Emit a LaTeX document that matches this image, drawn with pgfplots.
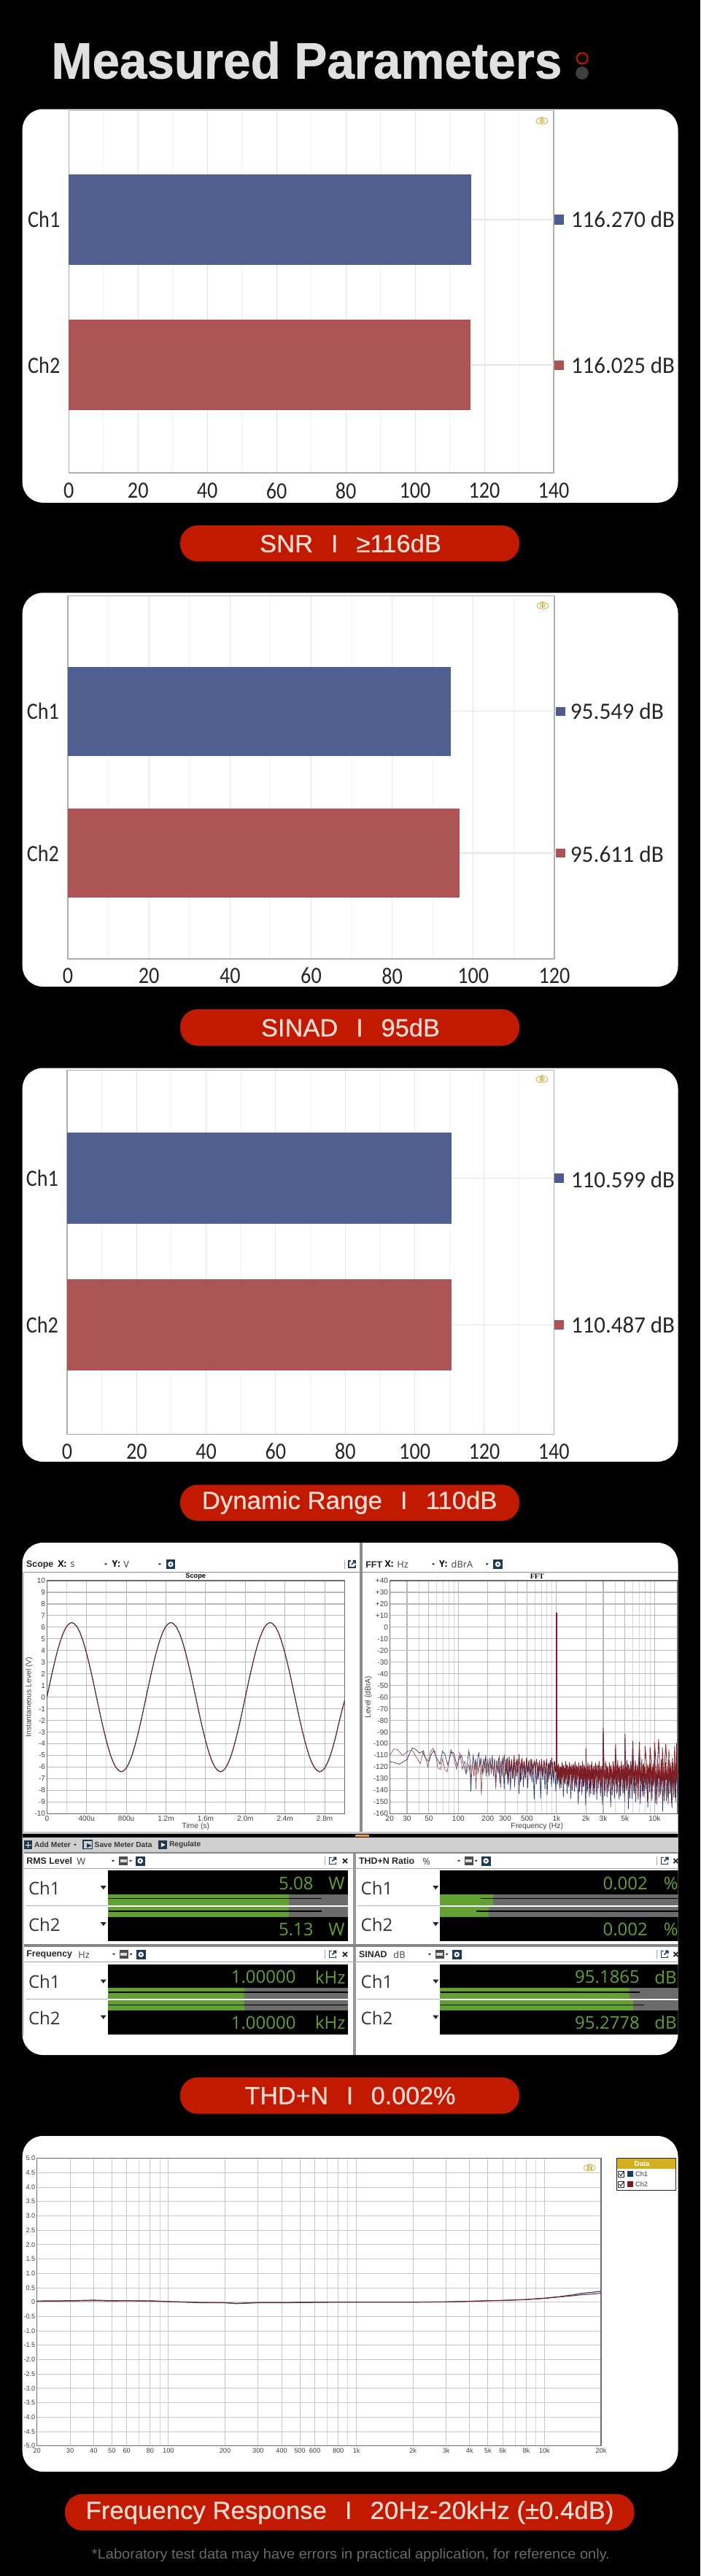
\documentclass[border=0pt]{standalone}
\usepackage{graphicx}
\usepackage{fontspec}
\setmainfont{Liberation Sans}
\newfontfamily\din[FakeStretch=0.88]{Carlito}
\newfontfamily\seg{Open Sans}
\newfontfamily\serf{Liberation Serif}
\newfontfamily\titlef[FakeBold=0.8]{Liberation Sans}
\newfontfamily\pillf[FakeBold=0.5]{Liberation Sans}
\usepackage{pgfplots}
\usepackage{pgfplotstable}
\pgfplotsset{compat=1.18}
\definecolor{bblue}{HTML}{4C5C8E}
\definecolor{bred}{HTML}{AC5252}
\definecolor{pill}{HTML}{C21A00}
\definecolor{pilltx}{HTML}{FBDDD5}
\definecolor{lblue}{HTML}{2B3C70}
\definecolor{lred}{HTML}{7F1C22}
\definecolor{navy}{HTML}{1F3A55}
\definecolor{mgreen}{HTML}{63A033}
\definecolor{mtrack}{HTML}{6B6B6B}
\definecolor{gold}{HTML}{D9B24A}
\definecolor{chrome}{HTML}{C8C8C8}
\definecolor{grip}{HTML}{E09A40}
\definecolor{dgold}{HTML}{D4AF22}

\pgfplotstableread{
t ch1 ch2
0 0 0
0.05 1.98 1.97
0.10 3.76 3.75
0.15 5.18 5.17
0.20 6.09 6.08
0.25 6.40 6.39
0.30 6.09 6.08
0.35 5.18 5.17
0.40 3.76 3.75
0.45 1.98 1.97
0.50 0 0
0.55 -1.98 -1.97
0.60 -3.76 -3.75
0.65 -5.18 -5.17
0.70 -6.09 -6.08
0.75 -6.40 -6.39
0.80 -6.09 -6.08
0.85 -5.18 -5.17
0.90 -3.76 -3.75
0.95 -1.98 -1.97
1.00 0 0
1.05 1.98 1.97
1.10 3.76 3.75
1.15 5.18 5.17
1.20 6.09 6.08
1.25 6.40 6.39
1.30 6.09 6.08
1.35 5.18 5.17
1.40 3.76 3.75
1.45 1.98 1.97
1.50 0 0
1.55 -1.98 -1.97
1.60 -3.76 -3.75
1.65 -5.18 -5.17
1.70 -6.09 -6.08
1.75 -6.40 -6.39
1.80 -6.09 -6.08
1.85 -5.18 -5.17
1.90 -3.76 -3.75
1.95 -1.98 -1.97
2.00 0 0
2.05 1.98 1.97
2.10 3.76 3.75
2.15 5.18 5.17
2.20 6.09 6.08
2.25 6.40 6.39
2.30 6.09 6.08
2.35 5.18 5.17
2.40 3.76 3.75
2.45 1.98 1.97
2.50 0 0
2.55 -1.98 -1.97
2.60 -3.76 -3.75
2.65 -5.18 -5.17
2.70 -6.09 -6.08
2.75 -6.40 -6.39
2.80 -6.09 -6.08
2.85 -5.18 -5.17
2.90 -3.76 -3.75
2.95 -1.98 -1.97
3.00 -0.30 -0.30
}\scopedata

\pgfplotsset{
  barax/.style={scale only axis, xmin=0, clip=false, anchor=south west,
    axis line style={draw=black!32, line width=0.6pt},
    grid=both, major grid style={draw=black!11, line width=0.5pt},
    minor grid style={draw=black!6, line width=0.5pt},
    minor x tick num=1, ymajorgrids=false, yminorgrids=false,
    major tick length=0pt, minor tick length=0pt,
    ytick={0,1}, yticklabels={Ch2,Ch1},
    yticklabel style={font=\din\fontsize{16pt}{16pt}\selectfont, text=black!85, inner sep=0pt, xshift=-5.8pt},
    xticklabel style={font=\din\fontsize{16pt}{16pt}\selectfont, text=black!85, anchor=center, inner sep=0pt},
  },
  appax/.style={scale only axis, anchor=south west, every axis title shift=0pt,
    axis line style={draw=black!58, line width=0.6pt},
    grid=both, major grid style={draw=black!28, line width=0.55pt},
    minor grid style={draw=black!16, line width=0.45pt},
    major tick length=0pt, minor tick length=0pt,
    tick label style={font=\fontsize{5pt}{5pt}\selectfont, text=black!75, inner sep=1pt},
    label style={font=\fontsize{5.2pt}{5.2pt}\selectfont, text=black!75},
  },
}
\newcommand\pilltext[2]{\resizebox{#1pt}{\height}{\pillf\fontsize{17pt}{18pt}\selectfont #2}}
\newcommand\sepI{\hspace{0.72em}I\hspace{0.72em}}
\newcommand\gear[2]{%
  \fill[navy] (#1,#2) rectangle ++(12.5,13);
  \draw[white, line width=1.1pt] (#1+6.25,#2+6.5) circle (2.6);}
\newcommand\popout[2]{%
  \draw[navy, line width=0.7pt] (#1+3,#2) -- (#1,#2) -- (#1,#2+9) -- (#1+9,#2+9) -- (#1+9,#2+6);
  \draw[navy, line width=0.8pt] (#1+4,#2+5) -- (#1+9,#2) (#1+5.5,#2) -- (#1+9,#2) -- (#1+9,#2+3.5);}
\newcommand\tri[3]{\fill[black!85] (#1-#3,#2-0.6*#3) -- (#1+#3,#2-0.6*#3) -- (#1,#2+0.7*#3) -- cycle;}
\newcommand\meticon[2]{%
  \fill[black!70] (#1,#2) rectangle ++(12,12);
  \fill[white!70!gray] (#1+1.5,#2+4) rectangle ++(9,4);
  \tri{#1+16}{#2+6}{2}}
\newcommand\logo[2]{%
  \draw[gold, line width=0.45pt] (#1,#2) ellipse (8 and 4.4);
  \draw[gold, line width=0.8pt] (#1-2.5,#2-4) -- (#1-2.5,#2+3) (#1,#2-6) -- (#1,#2+3) (#1+2.5,#2-3) -- (#1+2.5,#2+3);}
\newcommand\hdr[2]{\node[anchor=west, inner sep=0, font=\fontsize{6.2pt}{8pt}\selectfont\bfseries, text=black!85] at (#1) {#2};}
\newcommand\sm[2]{\node[anchor=west, inner sep=0, font=\seg\fontsize{6.4pt}{8pt}\selectfont, text=black!75] at (#1) {#2};}
\newcommand\chl[2]{\node[anchor=west, inner sep=0, font=\seg\fontsize{12pt}{12pt}\selectfont, text=black!80] at (#1) {#2};}
\newcommand\val[2]{\node[anchor=east, inner sep=0, font=\seg\fontsize{12pt}{12pt}\selectfont, text=mgreen] at (#1) {#2};}
\newcommand\mbar[5]{\addplot[fill=#5, draw=none, forget plot] coordinates {(#1,#2)(#3,#2)(#3,#4)(#1,#4)} --cycle;}
\newcommand\mline[3]{\addplot[black, line width=0.75pt, forget plot] coordinates {(#1,#3)(#2,#3)};}

\begin{document}
\begin{tikzpicture}
\path[use as bounding box] (0pt,0pt) rectangle (480pt,-1765pt);
\clip (0pt,0pt) rectangle (480pt,-1765pt);
\fill[black] (0pt,0pt) rectangle (480pt,-1765pt);

\begin{scope}[x=0.5pt,y=-0.5pt]
% title
\node[anchor=base west, inner sep=0, text=black!12, font=\titlef\fontsize{35pt}{37pt}\selectfont\bfseries] at (70,107.5) {\resizebox{350pt}{\height}{Measured Parameters}};
\draw[pill!90!red, line width=1pt] (798,80) circle (7.5);
\fill[black!75] (798,100) circle (8.8);
% panels
\foreach \a/\b in {149.5/688.8, 812.3/1352, 1463.5/2003, 2114/2816, 2927/3387}
  \fill[white, rounded corners=14pt] (30.7,\a) rectangle (929.5,\b);
% pills
\foreach \a/\b in {720/769.4, 1383/1433, 2034.5/2084, 2846.7/2896.7}
  \fill[pill, rounded corners=12pt] (247,\a) rectangle (712,\b);
\fill[pill, rounded corners=12pt] (89,3417.7) rectangle (869.6,3467.7);
\node[inner sep=0, text=pilltx] at (480.5,744.5) {\pilltext{124.5}{SNR\sepI≥116dB}};
\node[inner sep=0, text=pilltx] at (480.5,1408) {\pilltext{122.5}{SINAD\sepI 95dB}};
\node[inner sep=0, text=pilltx] at (479.2,2059) {\pilltext{202.4}{Dynamic Range\sepI 110dB}};
\node[inner sep=0, text=pilltx] at (480,2871.7) {\pilltext{144.5}{THD+N\sepI 0.002\%}};
\node[inner sep=0, text=pilltx] at (479.6,3443) {\pilltext{362}{Frequency Response\sepI 20Hz-20kHz (±0.4dB)}};
\node[inner sep=0, text=black!58] at (481,3501.7) {\resizebox{355pt}{\height}{\fontsize{9.6pt}{10pt}\selectfont *Laboratory test data may have errors in practical application, for reference only.}};

% panel 4 chrome
\begin{scope}
\clip[rounded corners=14pt] (30.7,2114) rectangle (929.5,2816);
\fill[chrome] (30.7,2154) rectangle (33,2790);
\fill[black!45] (493.3,2114) rectangle (497.3,2512);
\fill[black!40] (484,2538) rectangle (488.3,2816);
\fill[black!45] (33,2153.5) rectangle (929.5,2154.5);
\fill[chrome] (33,2510) rectangle (929.5,2512.5);
\fill[black] (30.7,2512.5) rectangle (929.5,2518.3);
\fill[grip] (486.7,2514) rectangle (505.7,2517.3);
\fill[black!19] (30.7,2518.3) rectangle (929.5,2538.3);
\fill[black!48] (33,2538.3) rectangle (929.5,2540);
\fill[black!48] (33,2664) rectangle (929.5,2667.7);
\foreach \y in {2560,2688.3} \fill[black!35] (33,\y) rectangle (929.5,\y+0.9);
\foreach \y in {2610.7,2739} {\fill[black!30] (35,\y) rectangle (148,\y+0.9); \fill[black!30] (490,\y) rectangle (603,\y+0.9);}
% black meter boxes
\foreach \xa/\xb in {148/477, 603.3/929.5}{
  \fill[black] (\xa,2563.3) rectangle (\xb,2595.8);
  \fill[black] (\xa,2626.7) rectangle (\xb,2660.3);
  \fill[black] (\xa,2691.7) rectangle (\xb,2724.2);
  \fill[black] (\xa,2755.3) rectangle (\xb,2787.7);
}
\end{scope}
% header row
\hdr{35.7,2144}{Scope}
\node[anchor=west, inner sep=0, font=\seg\fontsize{6.2pt}{7pt}\selectfont\bfseries] at (79,2143.5) {X:};
\sm{96,2144.5}{s} \tri{145}{2143.5}{2}
\node[anchor=west, inner sep=0, font=\seg\fontsize{6.2pt}{7pt}\selectfont\bfseries] at (153.3,2143.5) {Y:};
\sm{169,2144}{V} \tri{219}{2143.5}{2}
\gear{227.7}{2137} \draw[black!35,line width=0.5pt] (472.7,2138)--(472.7,2150); \popout{478}{2139}
\hdr{501,2144}{FFT}
\node[anchor=west, inner sep=0, font=\seg\fontsize{6.2pt}{7pt}\selectfont\bfseries] at (527.3,2143.5) {X:};
\sm{544,2144}{Hz} \tri{594}{2143.5}{2}
\node[anchor=west, inner sep=0, font=\seg\fontsize{6.2pt}{7pt}\selectfont\bfseries] at (601.7,2143.5) {Y:};
\sm{618.3,2144}{dBrA} \tri{667.7}{2143.5}{2}
\gear{676.3}{2137}
% toolbar
\fill[navy] (32.7,2522) rectangle ++(11.6,11.5);
\draw[white, line width=0.5pt] (38.5,2524)--(38.5,2532) (34.5,2528)--(42.5,2528);
\node[anchor=west, inner sep=0, font=\fontsize{5.1pt}{6pt}\selectfont, text=black!78] at (46.7,2527.7) {\textbf{Add Meter}};
\tri{103}{2528}{1.8}
\draw[navy, line width=0.6pt] (114,2522) rectangle ++(12.5,11.5);
\fill[navy] (119,2526) -- (126,2529) -- (119,2532) -- cycle;
\node[anchor=west, inner sep=0, font=\fontsize{5.1pt}{6pt}\selectfont, text=black!78] at (129.3,2527.7) {\textbf{Save Meter Data}};
\fill[navy] (216.7,2522) rectangle ++(12.3,11.5);
\fill[white] (221,2525) -- (226.5,2528) -- (221,2531) -- cycle;
\node[anchor=west, inner sep=0, font=\fontsize{5.1pt}{6pt}\selectfont, text=black!78] at (231.7,2527.7) {\textbf{Regulate}};
% meter headers
\hdr{36,2550}{RMS Level} \sm{105,2550.5}{W} \tri{155}{2550}{2} \meticon{163}{2544} \gear{186}{2543.5}
\draw[black!35,line width=0.5pt] (445,2544)--(445,2556); \popout{451.5}{2545.5}
\hdr{36,2678.3}{Frequency} \sm{107,2678.5}{Hz} \tri{156}{2678}{2} \meticon{163.5}{2672} \gear{187}{2671.8}
\draw[black!35,line width=0.5pt] (445,2672)--(445,2684); \popout{451.5}{2673.5}
\hdr{491.7,2550}{THD+N Ratio} \sm{579,2550.5}{\%} \tri{629}{2550}{2} \meticon{636.7}{2544} \gear{660}{2543.5}
\draw[black!35,line width=0.5pt] (900.7,2544)--(900.7,2556); \popout{906.7}{2545.5}
\hdr{491.7,2678.3}{SINAD} \sm{539,2678.5}{dB} \tri{589}{2678}{2} \meticon{596.7}{2672} \gear{620}{2671.8}
\draw[black!35,line width=0.5pt] (900.7,2672)--(900.7,2684); \popout{906.7}{2673.5}
\foreach \p in {473,926.5}
 \foreach \q in {2550,2678}
  \draw[black!85, line width=0.9pt] (\p-3,\q-3)--(\p+3,\q+3) (\p-3,\q+3)--(\p+3,\q-3);
% channel labels, triangles
\foreach \x/\tx in {38.7/141.7, 494.3/597.3}{
 \chl{\x,2587}{Ch1} \chl{\x,2637}{Ch2} \chl{\x,2715.5}{Ch1} \chl{\x,2765}{Ch2}
 \tri{\tx}{2586.5}{4} \tri{\tx}{2636.5}{4} \tri{\tx}{2715}{4} \tri{\tx}{2764}{4}
}
% values
\val{430,2581}{5.08} \val{473,2581}{W} \val{430,2644}{5.13} \val{473,2644}{W}
\val{406,2709}{1.00000} \val{474,2709}{kHz} \val{406,2771.7}{1.00000} \val{474,2771.7}{kHz}
\val{888.3,2581}{0.002} \val{930,2581}{\%} \val{888.3,2644}{0.002} \val{930,2644}{\%}
\val{877.3,2709}{95.1865} \val{928,2709}{dB} \val{877.3,2771.7}{95.2778} \val{928,2771.7}{dB}
\end{scope}

% ---------- Meter levels
\begin{axis}[scale only axis, hide axis, anchor=south west, at={(0pt,-1400pt)},
  width=480pt, height=130pt, xmin=0, xmax=960, ymin=2540, ymax=2800, y dir=reverse, clip=false]
\mbar{148}{2596}{476.7}{2610.5}{mtrack} \mbar{148}{2613.3}{476.7}{2626.7}{mtrack}
\mbar{148}{2596}{395.7}{2610.5}{mgreen} \mbar{148}{2613.3}{395.7}{2626.7}{mgreen}
\mline{149}{440.7}{2601.7} \mline{149}{440.7}{2619}
\mbar{148}{2724.4}{476.7}{2738.5}{mtrack} \mbar{148}{2741.3}{476.7}{2755.2}{mtrack}
\mbar{148}{2724.4}{335}{2738.5}{mgreen} \mbar{148}{2741.3}{335}{2755.2}{mgreen}
\mline{149}{476.7}{2730} \mline{149}{476.7}{2747.7}
\mbar{603.3}{2596}{929.5}{2610.5}{mtrack} \mbar{603.3}{2613.3}{929.5}{2626.7}{mtrack}
\mbar{603.3}{2596}{676}{2610.5}{mgreen} \mbar{603.3}{2613.3}{670}{2626.7}{mgreen}
\mline{659}{929.5}{2601.7} \mline{653}{929.5}{2619}
\mbar{603.3}{2724.4}{929.5}{2738.5}{mtrack} \mbar{603.3}{2741.3}{929.5}{2755.2}{mtrack}
\mbar{603.3}{2724.4}{862.7}{2738.5}{mgreen} \mbar{603.3}{2741.3}{868.3}{2755.2}{mgreen}
\mline{604}{877.3}{2730} \mline{604}{882.7}{2747.7}
\end{axis}

% ---------- SNR
\begin{axis}[barax, at={(47.15pt,-324pt)}, width=332.35pt, height=248.25pt,
  xmax=140, ymin=-0.743, ymax=1.7495, xtick={0,20,...,140}, xticklabels={0,20,40,60,80,100,120,140},
  xticklabel style={yshift=-12.2pt}]
\addplot[black!10, line width=0.7pt, forget plot] coordinates {(116.27,1)(140,1)};
\addplot[black!10, line width=0.7pt, forget plot] coordinates {(116.025,0)(140,0)};
\addplot[xbar, bar width=62pt, bar shift=0pt, fill=bblue, draw=none, fill opacity=0.98] coordinates {(116.27,1)};
\addplot[xbar, bar width=62pt, bar shift=0pt, fill=bred, draw=none, fill opacity=0.98] coordinates {(116.025,0)};
\addplot[only marks, mark=square*, mark size=3.05pt, color=bblue] coordinates {(141.6,1)};
\addplot[only marks, mark=square*, mark size=3.05pt, color=bred] coordinates {(141.6,0)};
\end{axis}

% ---------- SINAD
\begin{axis}[barax, at={(46.5pt,-657pt)}, width=333.5pt, height=248.6pt,
  xmax=120, ymin=-0.7459, ymax=1.8117, xtick={0,20,...,120}, xticklabels={0,20,40,60,80,100,120},
  xticklabel style={yshift=-11.6pt}]
\addplot[black!10, line width=0.7pt, forget plot] coordinates {(94.5,1)(120,1)};
\addplot[black!10, line width=0.7pt, forget plot] coordinates {(96.7,0)(120,0)};
\addplot[xbar, bar width=61pt, bar shift=0pt, fill=bblue, draw=none, fill opacity=0.98] coordinates {(94.5,1)};
\addplot[xbar, bar width=61pt, bar shift=0pt, fill=bred, draw=none, fill opacity=0.98] coordinates {(96.7,0)};
\addplot[only marks, mark=square*, mark size=2.8pt, color=bblue] coordinates {(121.5,1)};
\addplot[only marks, mark=square*, mark size=2.8pt, color=bred] coordinates {(121.5,0)};
\end{axis}

% ---------- Dynamic Range
\begin{axis}[barax, at={(46pt,-982.85pt)}, width=333.65pt, height=249.55pt,
  xmax=140, ymin=-0.7476, ymax=1.7367, xtick={0,20,...,140}, xticklabels={0,20,40,60,80,100,120,140},
  xticklabel style={yshift=-11.7pt}]
\addplot[black!10, line width=0.7pt, forget plot] coordinates {(110.6,1)(140,1)};
\addplot[black!10, line width=0.7pt, forget plot] coordinates {(110.49,0)(140,0)};
\addplot[xbar, bar width=62.5pt, bar shift=0pt, fill=bblue, draw=none, fill opacity=0.98] coordinates {(110.6,1)};
\addplot[xbar, bar width=62.5pt, bar shift=0pt, fill=bred, draw=none, fill opacity=0.98] coordinates {(110.49,0)};
\addplot[only marks, mark=square*, mark size=3.05pt, color=bblue] coordinates {(141.5,1)};
\addplot[only marks, mark=square*, mark size=3.05pt, color=bred] coordinates {(141.5,0)};
\end{axis}

% ---------- Scope
\begin{axis}[appax, at={(32.15pt,-1242.65pt)}, width=204pt, height=159.65pt,
  xmin=0, xmax=3, ymin=-10, ymax=10,
  xtick={0,0.4,...,2.8}, xticklabels={0,400u,800u,1.2m,1.6m,2.0m,2.4m,2.8m},
  minor xtick={0.2,0.6,1.0,1.4,1.8,2.2,2.6},
  ytick={-10,-9,...,10},
  yticklabels={-10,-9,-8,-7,-6,-5,-4,-3,-2,-1,0,1,2,3,4,5,6,7,8,9,10},
  xlabel={Time (s)}, ylabel={Instantaneous Level (V)},
  xlabel style={at={(axis description cs:0.5,0)}, anchor=center, yshift=-8.7pt},
  ylabel style={at={(axis description cs:0,0.5)}, anchor=center, rotate=0, yshift=12.2pt},
  title={Scope}, title style={font=\fontsize{4.6pt}{5pt}\selectfont\bfseries, at={(axis description cs:0.5,1)}, anchor=center, yshift=3pt, inner sep=0pt},
  xticklabel style={yshift=-0.5pt}]
\addplot[lblue, line width=0.55pt, smooth] table[x=t, y=ch1] {\scopedata};
\addplot[lred, line width=0.4pt, smooth] table[x=t, y=ch2] {\scopedata};
\end{axis}

% ---------- FFT
\begin{axis}[appax, xmode=log, log basis x=10, at={(267.15pt,-1242.65pt)}, width=197.35pt, height=159.65pt,
  xmin=20, xmax=17190, ymin=-160, ymax=40,
  xtick={20,30,50,100,200,300,500,1000,2000,3000,5000,10000},
  xticklabels={20,30,50,100,200,300,500,1k,2k,3k,5k,10k},
  minor xtick={40,60,70,80,90,400,600,700,800,900,4000,6000,7000,8000,9000},
  ytick={-160,-150,...,40},
  yticklabels={-160,-150,-140,-130,-120,-110,-100,-90,-80,-70,-60,-50,-40,-30,-20,-10,0,+10,+20,+30,+40},
  xlabel={Frequency (Hz)}, ylabel={Level (dBrA)},
  xlabel style={at={(axis description cs:0.5116,0)}, anchor=center, yshift=-8.7pt},
  ylabel style={at={(axis description cs:0,0.5)}, anchor=center, yshift=14.6pt},
  title={FFT}, title style={font=\serf\fontsize{5pt}{5pt}\selectfont\bfseries, at={(axis description cs:0.5116,1)}, anchor=center, yshift=3pt, inner sep=0pt},
  xticklabel style={yshift=-0.5pt}]
\addplot[lblue, line width=0.36pt] coordinates {
(20,-115.5)(22,-116)(25,-117.5)(28,-115)(30,-113.5)(32,-108)(34,-103.5)(37,-105)(40,-108)(43,-106.5)(46,-112)(50,-115.5)(53,-109)(56,-106)(60,-112)(65,-117.5)(69,-106.5)(73,-109)(78,-118)(85,-107)(90,-108)(97,-119)(103,-112)(108,-110)(112,-117)(116,-121)(120,-126)(124,-115)(128,-106)(131,-112)(134,-141)
(138,-118)(142,-110)(146,-122)(150,-113)(154,-126)(158,-111)(162,-108)(166,-120)(170,-112)(175,-127)(180,-114)(185,-120)(190,-110)(195,-125)(200,-113)(205,-128)(210,-112)(216,-122)(222,-110)(228,-128)(234,-113)(240,-135)(246,-114)(252,-124)(258,-112)(265,-134)(272,-115)(279,-128)(286,-111)(293,-139)(300,-114)(308,-126)(316,-112)(324,-133)(332,-116)(340,-140)(348,-113)(357,-130)(366,-114)(375,-137)(385,-116)(395,-128)(405,-113)(415,-143)(426,-116)(437,-131)(448,-112)(460,-137)(472,-115)(484,-129)(496,-114)(509,-138)(522,-116)(535,-127)(549,-113)(563,-133)(578,-117)(593,-148)(608,-115)(624,-135)(640,-116)(656,-129)(673,-114)(690,-147)(708,-117)(726,-131)(745,-115)(764,-139)(784,-116)(804,-144)(825,-117)(846,-130)(868,-114)(890,-137)(913,-116)(937,-134)(961,-115)(985,-141)
(1010,-122)(1032,-135)(1055,-118)(1078,-139)(1102,-120)(1126,-131)(1151,-117)(1176,-146)(1202,-121)(1229,-134)(1256,-118)(1284,-143)(1312,-122)(1341,-136)(1370,-119)(1400,-147)(1431,-123)(1463,-133)(1495,-118)(1528,-141)(1561,-122)(1596,-138)(1631,-120)(1667,-152)(1704,-124)(1741,-135)(1779,-119)(1818,-144)(1858,-121)(1899,-137)(1941,-120)(1984,-153)(2000,-108)(2028,-122)(2072,-139)(2118,-118)(2164,-146)(2212,-123)(2261,-136)(2311,-119)(2362,-144)(2414,-122)(2467,-138)(2521,-118)(2576,-148)(2633,-124)(2691,-135)(2750,-119)(2811,-145)(2873,-122)(2936,-152)(3000,-90)(3069,-123)(3136,-140)(3205,-118)(3276,-146)(3348,-124)(3421,-137)(3497,-119)(3574,-154)(3652,-122)(3733,-140)(3815,-118)(3899,-147)(3985,-125)(4000,-104)(4072,-122)(4162,-141)(4254,-119)(4347,-148)(4443,-123)(4541,-137)(4640,-118)(4743,-143)(4847,-124)(4954,-150)(5000,-95)(5063,-123)(5174,-140)(5288,-117)(5404,-156)(5523,-122)(5644,-139)(5769,-118)(5895,-147)(6000,-100)(6025,-124)(6157,-142)(6293,-119)(6431,-150)(6573,-123)(6717,-138)(6865,-118)(7000,-102)(7016,-125)(7171,-152)(7328,-121)(7490,-141)(7654,-118)(7823,-146)(7995,-124)(8171,-139)(8350,-117)(8534,-155)(8722,-122)(8914,-142)(9110,-118)(9311,-149)(9515,-124)(9725,-137)(9939,-119)(10000,-104)(10157,-151)(10381,-122)(10609,-143)(10842,-118)(11081,-146)(11325,-124)(11574,-141)(11828,-118)(12089,-158)(12355,-122)(12626,-144)(12904,-119)(13188,-149)(13478,-124)(13775,-152)(14078,-118)(14388,-143)(14704,-123)(15028,-155)(15358,-119)(15696,-146)(16041,-124)(16394,-150)(16755,-118)(17124,-144)(17190,-130)};
\addplot[lred!80!white, line width=0.33pt] coordinates {
(20,-110)(22,-104.5)(24,-105)(27,-110)(31,-106)(34,-106)(37,-111)(41,-117)(44,-106)(46,-111)(49,-120)(52,-107)(55,-104)(58,-107)(62,-121)(66,-122)(69,-113)(73,-122)(77,-124)(84,-105)(90,-112)(96,-122)(104,-108)(110,-122)(116,-115)(122,-124)(128,-118)(134,-130)(139,-117)(144,-128)(148,-115)(151,-139)(155,-116)(160,-125)(165,-113)(169,-131)(172,-144)(176,-118)(181,-125)(186,-113)(192,-128)(198,-114)(204,-122)(210,-112)(216,-126)(222,-118)(228,-124)(234,-113)(241,-139)(248,-115)(255,-126)(262,-110)(270,-138)(278,-113)(286,-122)(294,-109)(302,-127)};
\addplot[lred, line width=0.42pt] coordinates {
(302,-127)(311,-113)(320,-135)(329,-111)(339,-124)(349,-114)(359,-130)(370,-110)(381,-128)(392,-113)(404,-125)(416,-109)(428,-133)(441,-113)(454,-124)(467,-115)(481,-130)(495,-112)(510,-123)(525,-114)(541,-129)(557,-113)(574,-126)(591,-115)(609,-122)(627,-113)(646,-131)(665,-116)(685,-125)(706,-113)(727,-128)(749,-114)(771,-126)(794,-113)(818,-133)(843,-116)(868,-125)(894,-112)(921,-129)(949,-115)(977,-124)(990,-116)
(1010,-120)(1021,-133)(1043,-117)(1066,-128)(1090,-119)(1114,-138)(1139,-116)(1164,-127)(1190,-118)(1216,-135)(1243,-115)(1270,-129)(1298,-119)(1327,-137)(1356,-116)(1386,-126)(1417,-118)(1448,-140)(1480,-117)(1513,-130)(1546,-115)(1580,-136)(1615,-119)(1651,-127)(1687,-116)(1724,-141)(1762,-118)(1801,-131)(1841,-115)(1881,-137)(1923,-119)(1965,-129)(1995,-120)(2000,-104)(2005,-121)(2050,-142)(2095,-116)(2141,-131)(2188,-118)(2236,-143)(2286,-115)(2336,-133)(2388,-119)(2440,-144)(2494,-116)(2549,-128)(2605,-118)(2662,-139)(2721,-115)(2781,-134)(2842,-119)(2905,-140)(2969,-117)(3000,-86.5)(3030,-118)(3100,-145)(3170,-115)(3240,-132)(3312,-119)(3385,-141)(3460,-116)(3536,-130)(3614,-118)(3693,-144)(3774,-115)(3857,-136)(3942,-119)(4000,-100.5)(4030,-117)(4118,-143)(4208,-114)(4300,-133)(4395,-119)(4491,-145)(4590,-115)(4691,-131)(4795,-118)(4900,-142)(5000,-91.5)(5030,-116)(5118,-139)(5230,-114)(5345,-134)(5463,-118)(5583,-147)(5706,-115)(5831,-132)(6000,-97.5)(6095,-117)(6229,-143)(6366,-114)(6506,-136)(6649,-118)(6795,-148)(7000,-98.5)(7100,-116)(7247,-135)(7410,-113)(7572,-145)(7738,-117)(7908,-133)(8000,-102)(8260,-115)(8442,-150)(8628,-118)(8817,-134)(9000,-103)(9210,-114)(9413,-147)(9620,-117)(9831,-133)(10000,-99)(10270,-113)(10495,-152)(10725,-117)(11000,-96)(11200,-114)(11450,-144)(11700,-113)(11958,-135)(12000,-103)(12222,-116)(12490,-149)(12765,-112)(13000,-100)(13332,-117)(13626,-146)(13926,-113)(14000,-105)(14233,-134)(14545,-116)(14865,-151)(15192,-112)(15527,-138)(15868,-116)(16000,-102)(16218,-146)(16574,-112)(16800,-99.5)(16939,-133)(17190,-121)};
\addplot[lred, line width=0.5pt] coordinates {
(1005,-128)(1028,-119)(1050,-131)(1075,-122)(1100,-134)(1122,-120)(1148,-129)(1172,-119)(1198,-133)(1225,-121)(1252,-130)(1280,-118)(1309,-135)(1338,-120)(1367,-128)(1398,-122)(1430,-132)(1462,-119)(1494,-127)(1527,-121)(1560,-134)(1594,-118)(1630,-130)(1666,-123)(1702,-131)(1740,-119)(1778,-128)(1816,-122)(1856,-133)(1897,-118)(1939,-130)(1982,-121)(2026,-135)(2070,-119)(2116,-127)(2162,-122)(2210,-134)(2259,-118)(2309,-130)(2360,-121)(2412,-136)(2465,-119)(2519,-129)(2574,-122)(2631,-133)(2689,-118)(2748,-131)(2809,-121)(2871,-135)(2934,-119)(2998,-129)(3065,-122)(3133,-134)(3202,-118)(3273,-130)(3345,-121)(3419,-136)(3495,-119)(3572,-128)(3650,-122)(3731,-134)(3813,-118)(3897,-131)(3983,-120)(4070,-135)(4160,-118)(4252,-129)(4345,-121)(4441,-136)(4539,-119)(4638,-130)(4741,-122)(4845,-134)(4952,-118)(5061,-131)(5172,-120)(5286,-137)(5402,-118)(5521,-129)(5642,-121)(5767,-135)(5893,-119)(6023,-130)(6155,-122)(6291,-136)(6429,-118)(6571,-131)(6715,-120)(6863,-134)(7014,-118)(7169,-132)(7326,-121)(7488,-137)(7652,-118)(7821,-130)(7993,-120)(8169,-135)(8348,-118)(8532,-131)(8720,-121)(8912,-137)(9108,-117)(9309,-130)(9513,-120)(9723,-135)(9937,-118)(10155,-132)(10379,-120)(10607,-137)(10840,-117)(11079,-130)(11323,-120)(11572,-136)(11826,-117)(12087,-132)(12353,-120)(12624,-137)(12902,-116)(13186,-131)(13476,-120)(13773,-136)(14076,-117)(14386,-132)(14702,-119)(15026,-138)(15356,-116)(15694,-131)(16039,-119)(16392,-137)(16753,-116)(17122,-132)};
\addplot[lred, line width=0.75pt] coordinates {(1000,-125)(1000,12.5)};
\end{axis}

% ---------- Frequency response
\begin{axis}[appax, xmode=log, log basis x=10, at={(25.35pt,-1675.85pt)}, width=386.65pt, height=197pt,
  xmin=20, xmax=20000, ymin=-5, ymax=5,
  xtick={20,30,40,50,60,80,100,200,300,400,500,600,800,1000,2000,3000,4000,5000,6000,8000,10000,20000},
  xticklabels={20,30,40,50,60,80,100,200,300,400,500,600,800,1k,2k,3k,4k,5k,6k,8k,10k,20k},
  minor xtick={70,90,700,900,7000,9000},
  ytick={-5,-4.5,...,5},
  yticklabels={-5.0,-4.5,-4.0,-3.5,-3.0,-2.5,-2.0,-1.5,-1.0,-0.5,0,0.5,1.0,1.5,2.0,2.5,3.0,3.5,4.0,4.5,5.0},
  major grid style={draw=black!22, line width=0.5pt},
  yticklabel style={font=\fontsize{4.6pt}{5pt}\selectfont},
  xticklabel style={font=\fontsize{4.6pt}{5pt}\selectfont, yshift=-0.5pt}]
\addplot[lblue, line width=0.6pt] coordinates {(20,0.04)(30,0.05)(40,0.07)(50,0.05)(60,0.05)(80,0.04)(100,0.02)(120,0.0)(150,-0.02)(200,-0.02)(230,-0.05)(300,-0.02)(400,-0.02)(600,-0.01)(800,0)(1000,0)(2000,0.0)(3000,0.01)(4000,0.03)(5000,0.05)(6000,0.06)(8000,0.09)(10000,0.14)(12000,0.19)(14000,0.25)(16000,0.31)(18000,0.34)(20000,0.38)};
\addplot[lred, line width=0.5pt] coordinates {(20,0.03)(30,0.04)(40,0.05)(50,0.04)(60,0.05)(80,0.05)(100,0.02)(120,0.01)(150,-0.01)(200,-0.02)(230,-0.04)(300,-0.01)(400,-0.01)(600,0)(800,0)(1000,0)(2000,0.0)(3000,0.01)(4000,0.03)(5000,0.05)(6000,0.06)(8000,0.09)(10000,0.13)(12000,0.18)(14000,0.22)(16000,0.26)(18000,0.28)(20000,0.31)};
\end{axis}

\begin{scope}[x=0.5pt,y=-0.5pt]
% value labels of the bar panels
\newcommand\vl[4]{\node[anchor=west, inner sep=0, text=black!85] at (#1,#2) {\resizebox{#3pt}{\height}{\din\fontsize{16pt}{16pt}\selectfont #4}};}
\vl{782.6}{301}{71}{116.270 dB}
\vl{782.6}{500.5}{71}{116.025 dB}
\vl{781.4}{974.6}{64}{95.549 dB}
\vl{781.4}{1170}{64}{95.611 dB}
\vl{782.6}{1616}{71}{110.599 dB}
\vl{782.6}{1815}{71}{110.487 dB}
\logo{743}{165.8} \logo{744}{830} \logo{743}{1479} \logo{808.3}{2970.6}
% legend box of the frequency response
\fill[white] (845.3,2957.7) rectangle (926.7,3001.3);
\fill[dgold] (845.3,2957.7) rectangle (926.7,2972);
\draw[black!85, line width=0.5pt] (845.3,2957.7) rectangle (926.7,3001.3);
\node[inner sep=0, font=\fontsize{4.8pt}{5pt}\selectfont\bfseries, text=white] at (880,2965) {Data};
\foreach \y/\c/\t in {2979/navy/Ch1, 2993/lred/Ch2}{
  \draw[black!85, line width=0.4pt] (847.7,\y-4) rectangle ++(8,8);
  \draw[black!85, line width=0.5pt] (849,\y) -- (851,\y+2.5) -- (855,\y-3);
  \fill[\c] (859.7,\y-4) rectangle ++(8,8);
  \node[anchor=west, inner sep=0, font=\fontsize{4.6pt}{5pt}\selectfont, text=black!80] at (870.7,\y) {\t};
}
\end{scope}
\end{tikzpicture}
\end{document}
